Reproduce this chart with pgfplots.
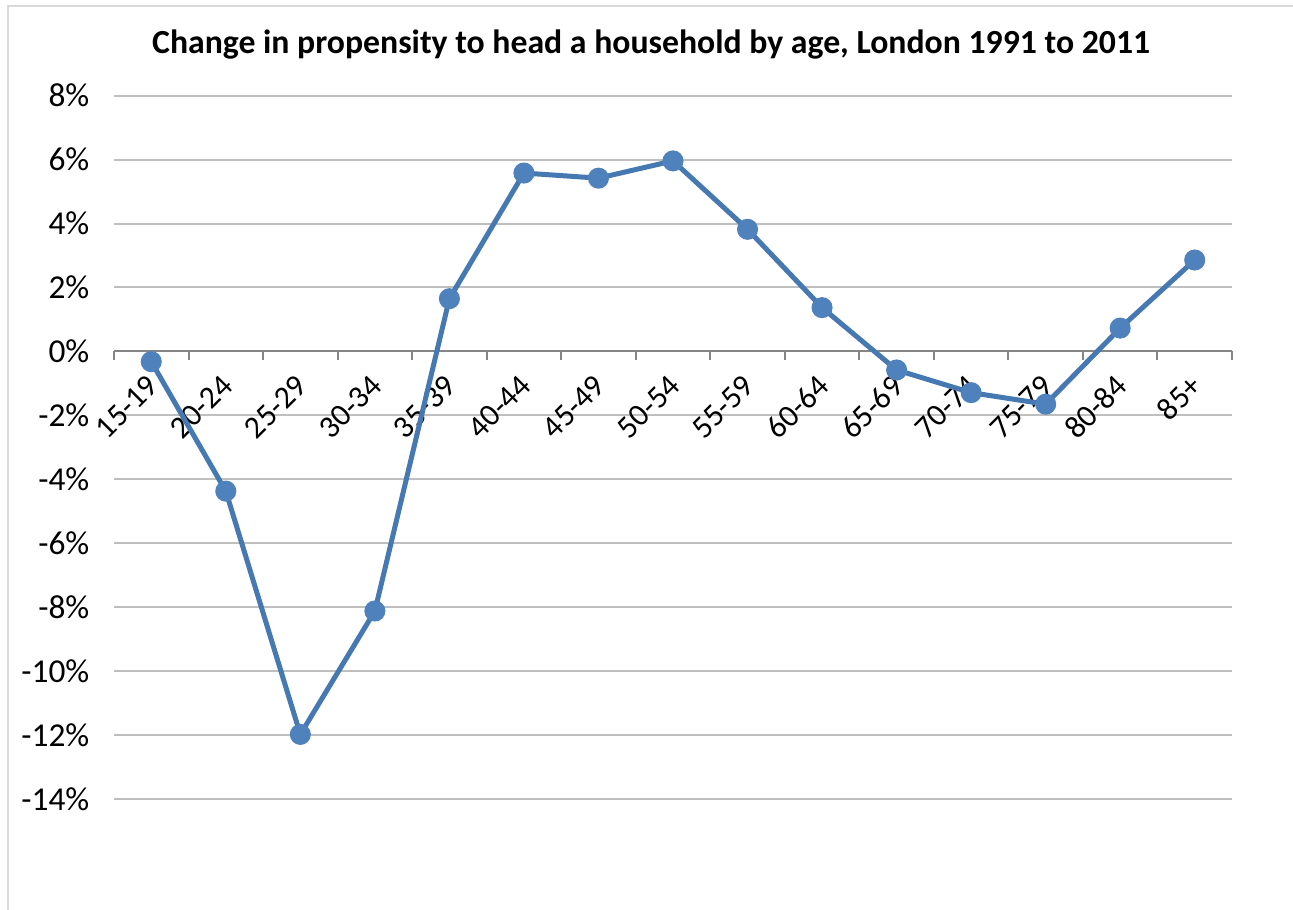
\documentclass[border=0pt]{standalone}
\usepackage{fontspec}
\setmainfont{Carlito}
\usepackage{pgfplots}
\pgfplotsset{compat=1.18}
\definecolor{lineblue}{RGB}{70,120,178}
\definecolor{markblue}{RGB}{79,129,189}
\definecolor{gridgray}{RGB}{191,191,191}
\definecolor{axisgray}{RGB}{134,134,134}
\definecolor{framegray}{RGB}{217,217,217}
\begin{document}
\begin{tikzpicture}[x=1cm,y=1cm]
\useasboundingbox (0,0) rectangle (12.93,9.10);
\draw[framegray, line width=0.02cm] (0.08,-0.2) -- (0.08,9.04) -- (13.2,9.04);
\node[font=\fontsize{9.6}{11}\selectfont\bfseries, anchor=base, inner sep=0pt] at (6.51,8.56) {Change in propensity to head a household by age, London 1991 to 2011};
\begin{axis}[
  at={(1.14cm,1.11cm)}, anchor=south west,
  scale only axis, width=11.18cm, height=7.033cm,
  xmin=-0.5, xmax=14.5, ymin=-14, ymax=8,
  axis x line=middle, axis y line=left,
  axis line style={-},
  y axis line style={draw=none},
  x axis line style={axisgray, line width=0.02cm},
  hide obscured x ticks=false, hide obscured y ticks=false,
  ytick={-14,-12,...,8},
  yticklabels={-14\%,-12\%,-10\%,-8\%,-6\%,-4\%,-2\%,0\%,2\%,4\%,6\%,8\%},
  ymajorgrids, grid style={gridgray, line width=0.02cm},
  ytick style={draw=none},
  xtick={0,...,14},
  xticklabels={15-19,20-24,25-29,30-34,35-39,40-44,45-49,50-54,55-59,60-64,65-69,70-74,75-79,80-84,85+},
  major x tick style={draw=none},
  minor xtick={-0.5,0.5,...,14.5},
  minor x tick style={axisgray, line width=0.02cm},
  minor tick length=0.087cm,
  tick align=outside,
  yticklabel shift=0.09cm,
  yticklabel style={font=\fontsize{9.5}{11}\selectfont, anchor=east, inner sep=0pt},
  xticklabel style={font=\fontsize{9}{11}\selectfont, xshift=0.02cm, yshift=-0.14cm, rotate=45, anchor=east, inner sep=0pt},
  clip=false,
]
\addplot[lineblue, line width=0.05cm, mark=*, mark size=0.08cm, mark options={fill=markblue, draw=markblue, solid}] coordinates {
(0,-0.32) (1,-4.37) (2,-11.98) (3,-8.12) (4,1.65) (5,5.58) (6,5.42) (7,5.96) (8,3.82) (9,1.37) (10,-0.58) (11,-1.29) (12,-1.65) (13,0.73) (14,2.86)
};
\end{axis}
\end{tikzpicture}
\end{document}
